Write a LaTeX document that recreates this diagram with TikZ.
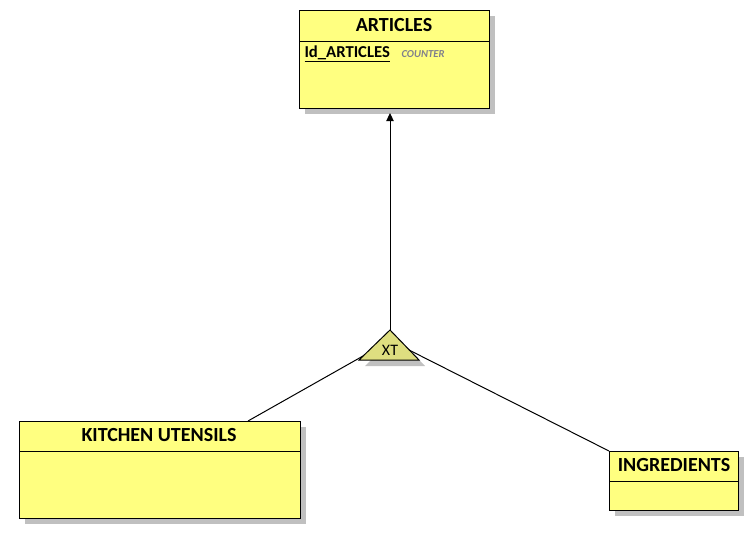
\documentclass[tikz,border=0pt]{standalone}
\usepackage{fontspec}
\setmainfont{Carlito}
\usetikzlibrary{arrows.meta}

\definecolor{entityfill}{RGB}{255,255,128}
\definecolor{xtfill}{RGB}{222,222,128}
\definecolor{shadowgray}{RGB}{192,192,192}
\definecolor{typegray}{RGB}{128,128,140}

\tikzset{every picture/.style={line width=0.75pt}}
\tikzset{
  entity/.style={draw=black, fill=entityfill, rectangle, inner sep=0pt, anchor=north west},
  entitytitle/.style={font=\bfseries\fontsize{15}{18}\selectfont, inner sep=0pt},
  keyattr/.style={font=\bfseries\fontsize{12.5}{15}\selectfont, inner sep=0pt, anchor=base west},
  attrtype/.style={font=\bfseries\itshape\fontsize{8}{10}\selectfont, text=typegray, inner sep=0pt, anchor=base west},
  link/.style={draw=black, line width=0.75pt},
}

\begin{document}
\begin{tikzpicture}[x=0.75pt,y=0.75pt,yscale=-1,xscale=1]
	\useasboundingbox (0,0) rectangle (756,546);

	%Shape: Shadows
	\fill [shadowgray] (305,16) rectangle (495,114) ;
	\fill [shadowgray] (25,427) rectangle (306,524) ;
	\fill [shadowgray] (615,457) rectangle (744,516) ;
	\fill [shadowgray] (396,336) -- (425,366) -- (365,366) -- cycle ;

	%Shape: Entity boxes
	\node [entity, minimum width=142.5pt, minimum height=73.5pt] (articles) at (299,10) {};
	\node [entity, minimum width=210.75pt, minimum height=72.75pt] (kitchen) at (19,421) {};
	\node [entity, minimum width=96.75pt, minimum height=44.25pt] (ingredients) at (609,451) {};

	%Straight Lines: header separators
	\draw (articles.north west) ++(0,31) -- ++(190,0) ;
	\draw (kitchen.north west) ++(0,30) -- ++(281,0) ;
	\draw (ingredients.north west) ++(0,30) -- ++(129,0) ;

	% Text Node
	\node [entitytitle] (articlestitle) at (394,25) {ARTICLES};
	% Text Node
	\node [entitytitle] (kitchentitle) at (159,435) {KITCHEN UTENSILS};
	% Text Node
	\node [entitytitle] (ingredientstitle) at (674,465) {INGREDIENTS};
	% Text Node
	\node [keyattr] (idarticles) at (304,57) {\underline{Id\_ARTICLES}};
	% Text Node
	\node [attrtype] (counter) at (401,57) {COUNTER};

	%Shape: Triangle
	\draw [fill=xtfill] (390,330) coordinate (xtapex) -- (419,360) coordinate (xtright) -- (359,360) coordinate (xtleft) -- cycle ;
	% Text Node
	\node [font=\fontsize{12}{14}\selectfont, inner sep=0pt, anchor=base] (xt) at (390,355) {XT};

	%Straight Lines: connectors
	\coordinate (articlesbottom) at (390,113) ;
	\coordinate (xtleftside) at (363,356) ;
	\coordinate (xtrightside) at (409,350) ;
	\coordinate (kitchentop) at (248,421) ;
	\draw [link, -{Triangle[length=6pt, width=5.5pt]}] (xtapex) -- (articlesbottom) ;
	\draw [link] (xtleftside) -- (kitchentop) ;
	\draw [link] (xtrightside) -- (ingredients.north west) ;

\end{tikzpicture}
\end{document}
